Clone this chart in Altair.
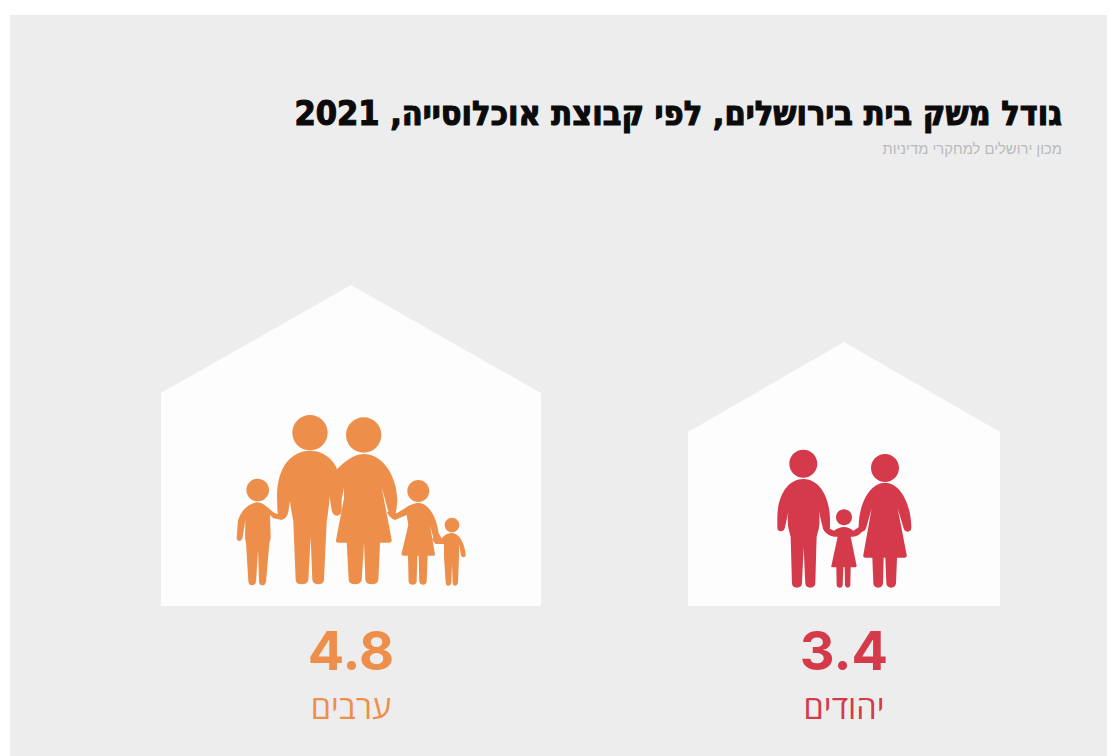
import re
import altair as alt
import pandas as pd

# --- content ---
TITLE = "גודל משק בית בירושלים, לפי קבוצת אוכלוסייה, 2021"
SUBTITLE = "מכון ירושלים למחקרי מדיניות"
groups = ["יהודים", "ערבים"]
values = [3.4, 4.8]
colors = ["#D43A4A", "#ED8E4B"]
house_left = [688, 161]
house_right = [1000, 541]
house_eave = [432, 393]
house_peak = [342, 285]
house_floor = 606
label_x = [844, 351]
value_y = [670, 670]
label_y = [719, 719]

PANEL = "#EDEDED"
HOUSE = "#FDFDFD"
X0, Y0, X1, Y1 = 8, 8, 1107, 756


def circle(cx, cy, r):
    k = 0.5523 * r
    return (f"M{cx-r},{cy} C{cx-r},{cy-k} {cx-k},{cy-r} {cx},{cy-r} "
            f"C{cx+k},{cy-r} {cx+r},{cy-k} {cx+r},{cy} "
            f"C{cx+r},{cy+k} {cx+k},{cy+r} {cx},{cy+r} "
            f"C{cx-k},{cy+r} {cx-r},{cy+k} {cx-r},{cy} Z ")


def rel(path, cx, cy):
    """Shift an absolute path (traced on a 3x crop) so its origin is the head centre."""
    nums = iter(range(10**6))
    def repl(m):
        i = next(nums)
        return f"{float(m.group(0)) - (cx if i % 2 == 0 else cy):.2f}"
    return re.sub(r"-?\d+\.?\d*(?:e-?\d+)?", repl, path)


def figure(head, body, px, py, color):
    cx, cy, r = head
    return {"x": px, "y": py, "color": color, "shape": rel(circle(cx, cy, r) + body, cx, cy)}


RED, ORANGE = colors
people = [
    figure((130, 71, 42),
           "M130,117 C175,117 208,165 210,235 L210,262 Q209,274 199,274 Q190,274 188,262 L170,185 "
           "C180,215 180,250 176,268 L170,290 L166,430 Q165,443 151,443 Q137,443 136,430 L131,322 "
           "L126,430 Q125,443 111,443 Q97,443 96,430 L92,290 L86,268 C82,250 82,215 92,185 "
           "L75,262 Q73,274 63,274 Q52,274 52,262 L52,235 C52,165 85,117 130,117 Z",
           803.3, 463.7, RED),
    figure((252, 232, 24),
           "M252,261 C262,261 270,265 280,272 L296,262 Q310,262 307,274 Q295,290 280,290 L272,290 "
           "L290,378 Q290,382 285,382 L272,382 L271,435 Q270,443 263,443 Q256,443 255,435 L254,382 "
           "L250,382 L248,435 Q247,443 239,443 Q231,443 230,435 L229,382 L218,382 Q212,382 214,378 "
           "L233,290 L222,290 Q205,288 192,272 Q190,262 200,262 L222,272 C232,265 242,261 252,261 Z",
           844, 517.3, RED),
    figure((375, 84, 42),
           "M375,128 C420,128 453,190 454,262 Q454,275 443,275 Q433,275 430,262 L413,205 L440,345 "
           "Q442,353 433,353 L411,353 L408,430 Q406,443 394,443 Q380,443 379,430 L376,353 L371,353 "
           "L369,430 Q367,443 355,443 Q341,443 340,430 L337,353 L317,353 Q308,353 310,345 L335,205 "
           "L319,262 Q316,275 305,275 Q295,272 296,262 C296,190 330,128 375,128 Z",
           885, 468, RED),
    figure((270, 98, 53),
           "M270,152 C315,152 345,185 352,210 L365,300 L365,335 Q360,347 350,347 Q337,345 335,330 "
           "L320,235 C330,270 330,300 325,330 L320,365 L312,540 Q310,553 295,553 Q280,553 277,540 "
           "L272,410 L265,540 Q262,553 245,553 Q228,553 227,540 L220,365 L212,320 C208,290 208,260 220,235 "
           "L205,335 Q200,358 185,358 Q172,350 172,325 L171,290 C171,200 215,152 270,152 Z",
           310, 432.7, ORANGE),
    figure((113, 270, 34),
           "M113,307 C130,307 150,330 165,340 L190,345 Q192,358 185,360 L160,355 L150,345 L152,415 L148,430 "
           "L138,545 Q135,556 128,556 Q118,556 117,545 L114,450 L108,545 Q106,556 97,556 Q87,556 85,545 "
           "L78,430 L75,415 L76,360 L68,412 Q65,423 58,423 Q50,423 50,412 L53,370 C55,340 85,307 113,307 Z",
           257.7, 490, ORANGE),
    figure((431, 105, 53),
           "M431,162 C490,162 530,230 532,300 L530,320 Q528,350 515,350 Q505,345 505,335 L485,262 L515,420 "
           "Q516,428 508,428 L480,428 L475,540 Q472,553 455,553 Q438,553 436,540 L432,428 L425,540 "
           "Q422,553 405,553 Q388,553 386,540 L380,428 L355,428 Q346,428 348,420 L372,295 L372,262 "
           "L365,300 L345,215 C365,190 400,162 431,162 Z",
           363.7, 435, ORANGE),
    figure((595, 273, 33),
           "M595,309 C625,309 650,350 656,400 L665,415 L650,432 Q645,432 643,425 L630,375 L645,462 "
           "Q646,467 640,467 L623,467 L620,545 Q618,554 609,554 Q600,554 598,545 L596,467 L592,467 "
           "L590,545 Q588,554 579,554 Q568,554 566,545 L564,467 L550,467 Q543,467 545,460 L565,375 L560,345 "
           "L525,360 Q510,355 500,335 L530,340 L555,325 C570,313 585,309 595,309 Z",
           418.3, 491, ORANGE),
    figure((696, 375, 22),
           "M696,399 C715,399 733,425 737,462 Q737,472 730,472 Q724,472 722,462 L717,432 L717,470 "
           "L714,548 Q712,557 705,557 Q699,557 698,548 L696,490 L694,548 Q692,557 685,557 Q678,557 677,548 "
           "L672,470 L672,432 L650,432 Q640,430 636,415 L645,415 L662,418 L675,405 Q685,399 696,399 Z",
           452, 525, ORANGE),
]

# --- tables ---
house_rows = []
for g, l, r, e, p in zip(groups, house_left, house_right, house_eave, house_peak):
    house_rows += [
        {"group": g, "x": l, "y": e, "y2": house_floor},
        {"group": g, "x": (l + r) / 2, "y": p, "y2": house_floor},
        {"group": g, "x": r, "y": e, "y2": house_floor},
    ]
houses = pd.DataFrame(house_rows)
labels = pd.DataFrame({"group": groups, "value": [f"{v:.1f}" for v in values], "color": colors,
                       "x": label_x, "vy": value_y, "ly": label_y})
people_df = pd.DataFrame(people)
panel = pd.DataFrame({"x": [10], "x2": [X1], "y": [15], "y2": [Y1]})
titles = pd.DataFrame({"x": [1062], "y": [125], "y_sub": [154], "t": [TITLE], "s": [SUBTITLE]})

# --- shared pixel-like scales ---
sx = alt.Scale(domain=[X0, X1], nice=False, zero=False)
sy = alt.Scale(domain=[Y1, Y0], nice=False, zero=False)
X = lambda f: alt.X(f, type="quantitative", scale=sx, axis=None)
Y = lambda f: alt.Y(f, type="quantitative", scale=sy, axis=None, stack=None)

bg = alt.Chart(panel).mark_rect(color=PANEL).encode(x=X("x"), x2="x2", y=Y("y"), y2="y2")
house_layers = [
    alt.Chart(houses[houses.group == g]).mark_area(color=HOUSE, opacity=1, interpolate="linear").encode(
        x=X("x"), y=Y("y"), y2="y2")
    for g in groups
]
figs = alt.Chart(people_df).mark_point(filled=True, opacity=1, strokeWidth=0, size=4 / 9).encode(
    x=X("x"), y=Y("y"),
    shape=alt.Shape("shape:N", scale=None),
    color=alt.Color("color:N", scale=None))
val = alt.Chart(labels).mark_text(font="Inter", fontWeight="bold", fontSize=54, align="center",
                                  baseline="alphabetic").encode(
    x=X("x"), y=Y("vy"), text="value:N", color=alt.Color("color:N", scale=None))
lab = alt.Chart(labels).mark_text(font="Open Sans", fontSize=32.5, align="center",
                                  baseline="alphabetic").encode(
    x=X("x"), y=Y("ly"), text="group:N", color=alt.Color("color:N", scale=None))
ttl = alt.Chart(titles).mark_text(font="DejaVu Sans Condensed", fontWeight="bold", fontSize=34,
                                  align="right", baseline="alphabetic", color="#0B0B0B",
                                  stroke="#0B0B0B", strokeWidth=1.1).encode(
    x=X("x"), y=Y("y"), text="t:N")
sub = alt.Chart(titles).mark_text(font="Liberation Sans", fontSize=14.8, align="right",
                                  baseline="alphabetic", color="#B9BABD").encode(
    x=X("x"), y=Y("y_sub"), text="s:N")

chart = alt.layer(bg, *house_layers, figs, val, lab, ttl, sub).properties(
    width=X1 - X0, height=Y1 - Y0, padding=0, background="white",
    autosize=alt.AutoSizeParams(type="none"),
).configure_view(stroke=None)

chart.save("out.html", embed_options={"renderer": "svg", "actions": False})
